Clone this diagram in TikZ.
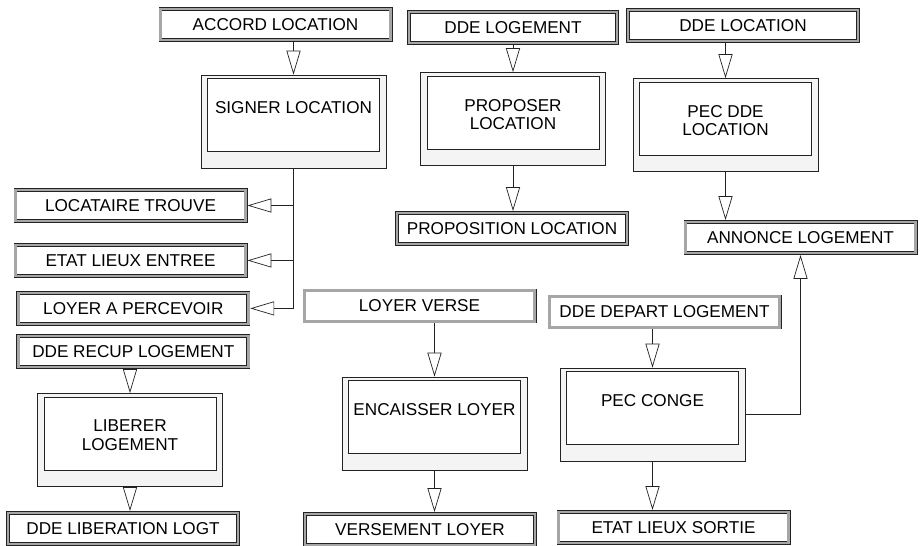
\documentclass[tikz,border=0pt]{standalone}
\usepackage{fontspec}
\setmainfont{Liberation Sans}
\usepackage{tikz}
\usetikzlibrary{arrows.meta,positioning}
\definecolor{msggray}{HTML}{A6A6A6}
\definecolor{procfill}{HTML}{F4F4F4}
\definecolor{linegray}{HTML}{222222}

\begin{document}
\begin{tikzpicture}[x=0.025cm,y=-0.025cm,
  font=\fontsize{12.2}{13.5}\selectfont,
  message/.style={draw=linegray,double=msggray,double distance=1.9pt,line width=0.45pt,fill=white,minimum width=5.75cm,minimum height=0.775cm,inner sep=0pt,outer sep=1.4pt},
  process/.style={draw=linegray,fill=procfill,line width=0.5pt,minimum width=4.625cm,minimum height=2.325cm,inner sep=0pt},
  procin/.style={draw=linegray,fill=white,line width=0.5pt,minimum width=4.3cm,minimum height=1.825cm,inner sep=0pt},
  proctext/.style={align=center,inner sep=0pt},
  arr/.style={-{Triangle[open,fill=white,length=17pt,width=10pt]},line width=0.5pt,draw=linegray}
]
\useasboundingbox (0,0) rectangle (922,546);

% Processes
\node[process] (signer) at (293.5,121.5) {};
\node[procin,below=0.09cm of signer.north] (signer-in) {};
\node[proctext,below=0.575cm of signer-in.north] (signer-t) {SIGNER LOCATION};

\node[process] (proposer) at (513,119) {};
\node[procin,below=0.09cm of proposer.north] (proposer-in) {};
\node[proctext,below=0.575cm of proposer-in.north] (proposer-t) {PROPOSER\\LOCATION};

\node[process] (pecdde) at (725.5,125) {};
\node[procin,below=0.09cm of pecdde.north] (pecdde-in) {};
\node[proctext,below=0.575cm of pecdde-in.north] (pecdde-t) {PEC DDE\\LOCATION};

\node[process] (liberer) at (130,440) {};
\node[procin,below=0.09cm of liberer.north] (liberer-in) {};
\node[proctext,below=0.575cm of liberer-in.north] (liberer-t) {LIBERER\\LOGEMENT};

\node[process] (encaisser) at (434.5,423.5) {};
\node[procin,below=0.09cm of encaisser.north] (encaisser-in) {};
\node[proctext,below=0.575cm of encaisser-in.north] (encaisser-t) {ENCAISSER LOYER};

\node[process] (pecconge) at (652.5,414.5) {};
\node[procin,below=0.09cm of pecconge.north] (pecconge-in) {};
\node[proctext,below=0.575cm of pecconge-in.north] (pecconge-t) {PEC CONGE};

% Messages (top)
\node[message] (accord) at (275.5,24.5) {ACCORD LOCATION};
\node[message,minimum width=5.2cm] (ddelog) at (513,27.5) {DDE LOGEMENT};
\node[message] (ddeloc) at (743,25.5) {DDE LOCATION};
\node[message] (proposition) at (512,228.5) {PROPOSITION LOCATION};
\node[message] (annonce) at (800.5,237.5) {ANNONCE LOGEMENT};

% Messages (left)
\node[message] (locataire) at (130.5,205.5) {LOCATAIRE TROUVE};
\node[message,below=0.5cm of locataire] (entree) {ETAT LIEUX ENTREE};
\node[message,below=0.325cm of entree,xshift=2] (loyerperc) {LOYER A PERCEVOIR};
\node[message,below=0.2cm of loyerperc] (recup) {DDE RECUP LOGEMENT};
\node[message] (liberation) at (123,528.5) {DDE LIBERATION LOGT};

% Messages (bottom)
\node[message] (loyerverse) at (419.5,306) {LOYER VERSE};
\node[message] (versement) at (420,529.5) {VERSEMENT LOYER};
\node[message] (depart) at (664.5,312) {DDE DEPART LOGEMENT};
\node[message] (sortie) at (673.5,527.5) {ETAT LIEUX SORTIE};

% Arrows
\draw[arr] (accord.south -| signer.north) -- (signer.north);
\draw[arr] (signer.south) |- (loyerperc.east);
\draw[arr] (signer.south |- locataire.east) -- (locataire.east);
\draw[arr] (signer.south |- entree.east) -- (entree.east);

\draw[arr] (ddelog) -- (proposer);
\draw[arr] (proposer.south) -- (proposer.south |- proposition.north);

\draw[arr] (ddeloc.south -| pecdde.north) -- (pecdde.north);
\draw[arr] (pecdde.south) -- (pecdde.south |- annonce.north);

\draw[arr] (recup.south -| liberer.north) -- (liberer.north);
\draw[arr] (liberer.south) -- (liberer.south |- liberation.north);

\draw[arr] (loyerverse.south -| encaisser.north) -- (encaisser.north);
\draw[arr] (encaisser.south) -- (encaisser.south |- versement.north);

\draw[arr] (depart.south -| pecconge.north) -- (pecconge.north);
\draw[arr] (pecconge.south) -- (pecconge.south |- sortie.north);
\draw[arr] (pecconge.east) -| (annonce.south);

\end{tikzpicture}
\end{document}
